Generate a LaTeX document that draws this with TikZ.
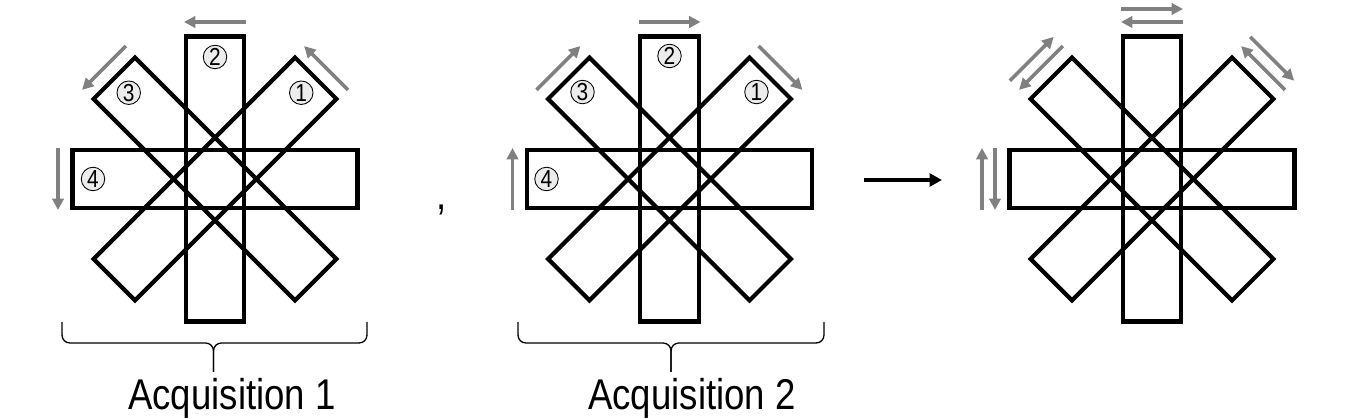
\documentclass[tikz,border=0pt]{standalone}
\usepackage{fontspec}
\setmainfont{Liberation Sans}
\newfontfamily\narrowfont[FakeStretch=0.85]{Liberation Sans}
\usetikzlibrary{arrows.meta,calc}

\begin{document}
\begin{tikzpicture}[x=0.02cm,y=0.02cm,
  spoke/.style={draw,rectangle,minimum width=5.7cm,minimum height=1.17cm,inner sep=0pt,line width=2.4pt},
  num/.style={circle,draw,line width=0.5pt,fill=gray!15,minimum size=0.47cm,inner sep=0pt,font=\narrowfont\fontsize{14}{14}\selectfont},
  turn/.style={-{Triangle[length=6.5pt,width=6.5pt]},draw=gray,line width=2pt},
  brace/.style={line width=0.75pt,rounded corners=4.5pt},
  caption/.style={anchor=base,inner sep=0pt,font=\narrowfont\fontsize{24.5}{28}\selectfont}]
\useasboundingbox (0,0) rectangle (1356,418);
\coordinate (s1) at (215,239);
\coordinate (s2) at (669.5,239);
\coordinate (s3) at (1152,239);
% acquisition 1
\node[spoke] (h1) at (s1) {};
\node[spoke,rotate=90] (v1) at (s1) {};
\node[spoke,rotate=45] (d1) at (s1) {};
\node[spoke,rotate=135] (e1) at (s1) {};
\node[num] (n11) at ($(s1)+(45:122)$) {1};
\node[num] (n12) at ($(s1)+(90:122)$) {2};
\node[num] (n13) at ($(s1)+(135:122)$) {3};
\node[num] (n14) at ($(s1)+(180:122)$) {4};
\draw[turn] ($(s1)+(45:157)+(-45:31)$) -- ($(s1)+(45:157)+(135:31)$);
\draw[turn] ($(s1)+(90:157)+(0:31)$) -- ($(s1)+(90:157)+(180:31)$);
\draw[turn] ($(s1)+(135:157)+(45:31)$) -- ($(s1)+(135:157)+(225:31)$);
\draw[turn] ($(s1)+(180:157)+(90:31)$) -- ($(s1)+(180:157)+(270:31)$);
% acquisition 2
\node[spoke] (h2) at (s2) {};
\node[spoke,rotate=90] (v2) at (s2) {};
\node[spoke,rotate=45] (d2) at (s2) {};
\node[spoke,rotate=135] (e2) at (s2) {};
\node[num] (n21) at ($(s2)+(45:123)$) {1};
\node[num] (n22) at ($(s2)+(90:123)$) {2};
\node[num] (n23) at ($(s2)+(135:123)$) {3};
\node[num] (n24) at ($(s2)+(180:123)$) {4};
\draw[turn] ($(s2)+(45:157)+(135:31)$) -- ($(s2)+(45:157)+(-45:31)$);
\draw[turn] ($(s2)+(90:157)+(180:31)$) -- ($(s2)+(90:157)+(0:31)$);
\draw[turn] ($(s2)+(135:157)+(225:31)$) -- ($(s2)+(135:157)+(45:31)$);
\draw[turn] ($(s2)+(180:157)+(270:31)$) -- ($(s2)+(180:157)+(90:31)$);
% combined
\node[spoke] (h3) at (s3) {};
\node[spoke,rotate=90] (v3) at (s3) {};
\node[spoke,rotate=45] (d3) at (s3) {};
\node[spoke,rotate=135] (e3) at (s3) {};
\draw[turn] ($(s3)+(45:157)+(-45:31)$) -- ($(s3)+(45:157)+(135:31)$);
\draw[turn] ($(s3)+(90:157)+(0:31)$) -- ($(s3)+(90:157)+(180:31)$);
\draw[turn] ($(s3)+(135:157)+(45:31)$) -- ($(s3)+(135:157)+(225:31)$);
\draw[turn] ($(s3)+(180:157)+(90:31)$) -- ($(s3)+(180:157)+(270:31)$);
\draw[turn] ($(s3)+(45:170)+(135:31)$) -- ($(s3)+(45:170)+(-45:31)$);
\draw[turn] ($(s3)+(90:170)+(180:31)$) -- ($(s3)+(90:170)+(0:31)$);
\draw[turn] ($(s3)+(135:170)+(225:31)$) -- ($(s3)+(135:170)+(45:31)$);
\draw[turn] ($(s3)+(180:170)+(270:31)$) -- ($(s3)+(180:170)+(90:31)$);
% braces and captions
\draw[brace] (62,96) |- (213.5,75) -- (213.5,46);
\draw[brace] (367,96) |- (213.5,75) -- (213.5,46);
\draw[brace] (518,96) |- (671,75) -- (671,46);
\draw[brace] (824,96) |- (671,75) -- (671,46);
\node[caption] (t1) at (232,8) {Acquisition 1};
\node[caption] (t2) at (692,8) {Acquisition 2};
\node[caption] (comma) at (442,208.5) {,};
\coordinate (p) at (864,238);
\coordinate (q) at (942,238);
\draw[-{Triangle[length=7pt,width=7.2pt]},line width=2.65pt] (p) -- (q);
\end{tikzpicture}
\end{document}
